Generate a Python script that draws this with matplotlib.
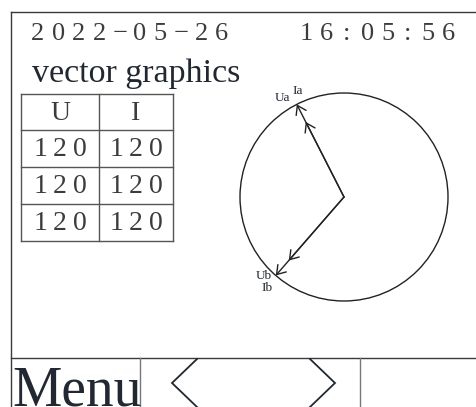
import matplotlib.pyplot as plt
import numpy as np
from matplotlib.patches import Circle, FancyArrowPatch

# screen contents
date_str = '2022−05−26'
time_str = '16:05:56'
title = 'vector graphics'
col_names = ['U', 'I']
u_vals = [120, 120, 120]
i_vals = [120, 120, 120]

# phasors: angle in degrees, length relative to circle radius
phase_names = ['a', 'b']
u_angle = [117, 229]
u_len = [1.0, 1.0]
i_angle = [117, 229]
i_len = [0.81, 0.81]

plt.rcParams['font.family'] = ['Liberation Serif', 'DejaVu Sans']

fig = plt.figure(figsize=(4.77, 4.07), dpi=100)
ax = fig.add_axes([0, 0, 1, 1])
ax.set_xlim(0, 477)
ax.set_ylim(407, 0)
ax.axis('off')

line_c = '#3a3a3a'
txt_c = '#222831'
num_c = '#3c3c3c'

# frame
ax.plot([11, 11], [12, 407], color=line_c, lw=1)
ax.plot([11, 477], [12, 12], color=line_c, lw=1)
ax.plot([11, 477], [358, 358], color=line_c, lw=1)
ax.plot([140, 140], [358, 407], color='#777777', lw=1)
ax.plot([360, 360], [358, 407], color='#777777', lw=1)

# date / time, wide spaced chars
for k, ch in enumerate(date_str):
    ax.text(38 + k * 20.4, 34, ch, fontsize=19, ha='center', va='center', color=num_c)
for k, ch in enumerate(time_str):
    ax.text(306 + k * 20.4, 34, ch, fontsize=19, ha='center', va='center', color=num_c)

ax.text(32, 82, title, fontsize=24.5, ha='left', va='baseline', color=txt_c)

# table
tx = [21, 99, 173]
ty = [94, 130, 167, 204, 241]
for x in tx:
    ax.plot([x, x], [ty[0], ty[-1]], color='#555555', lw=1)
for y in ty:
    ax.plot([tx[0], tx[-1]], [y, y], color='#555555', lw=1)

def spaced(x, y, s):
    for k, ch in enumerate(s):
        ax.text(x + (k - (len(s) - 1) / 2) * 19.5, y, ch, fontsize=20,
                ha='center', va='center', color=num_c)

for c, name in enumerate(col_names):
    spaced((tx[c] + tx[c + 1]) / 2, (ty[0] + ty[1]) / 2 + 1, name)
for r in range(3):
    yc = (ty[r + 1] + ty[r + 2]) / 2 + 1
    spaced((tx[0] + tx[1]) / 2, yc, str(u_vals[r]))
    spaced((tx[1] + tx[2]) / 2, yc, str(i_vals[r]))

# phasor circle
cx, cy, R = 344, 197, 104
ax.add_patch(Circle((cx, cy), R, fill=False, ec='#222222', lw=1))

def tip(ang, ln):
    a = np.deg2rad(ang)
    return cx + R * ln * np.cos(a), cy - R * ln * np.sin(a)

for ang, ln in zip(u_angle + i_angle, u_len + i_len):
    x, y = tip(ang, ln)
    ax.add_patch(FancyArrowPatch((cx, cy), (x, y), arrowstyle='->,head_length=0.6,head_width=0.4',
                                 mutation_scale=10, color='#222222', lw=1,
                                 shrinkA=0, shrinkB=0))

u_off = [(-14, -6), (-12, 1)]
i_off = [(1, -13), (-9, 13)]
for k, p in enumerate(phase_names):
    x, y = tip(u_angle[k], u_len[k])
    ax.text(x + u_off[k][0], y + u_off[k][1], 'U' + p, fontsize=9.5,
            ha='center', va='center', color=txt_c)
    ax.text(x + i_off[k][0], y + i_off[k][1], 'I' + p, fontsize=9.5,
            ha='center', va='center', color=txt_c)

# bottom bar
ax.text(12, 405, 'Menu', fontsize=40, ha='left', va='baseline', color=txt_c)
# page arrows (icons)
ax.plot([197, 172, 197], [359, 383, 407], color=txt_c, lw=1.3, solid_joinstyle='miter')
ax.plot([310, 335, 310], [359, 383, 407], color=txt_c, lw=1.3, solid_joinstyle='miter')

fig.savefig('out.png', dpi=100)
